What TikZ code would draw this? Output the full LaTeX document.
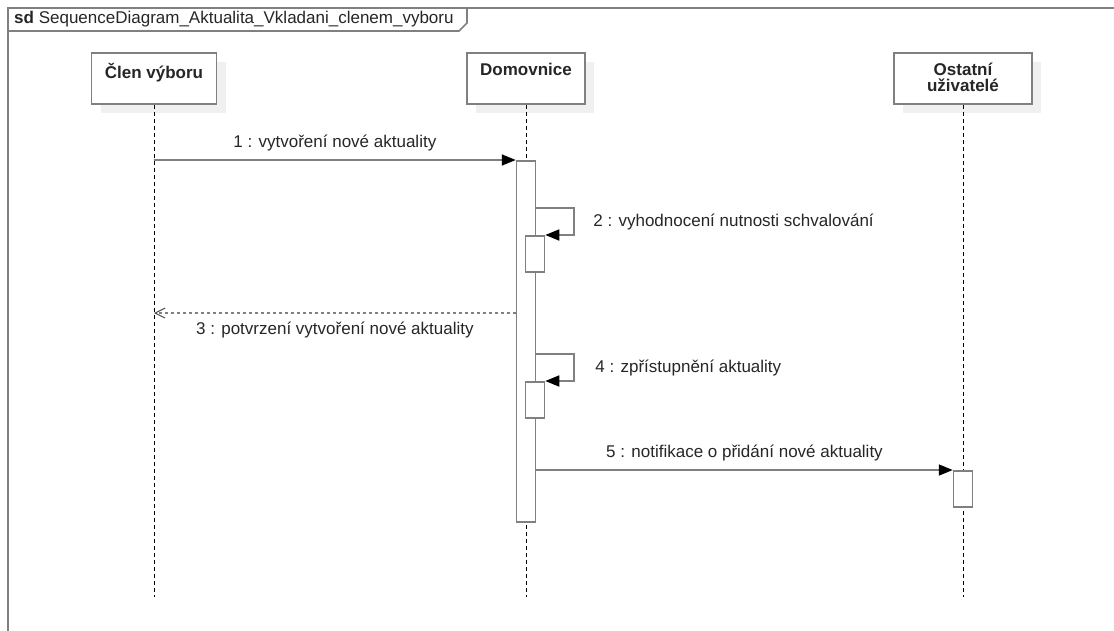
\documentclass[tikz,border=0pt]{standalone}
\usepackage{fontspec}
\setmainfont{Liberation Sans}
\usetikzlibrary{arrows.meta,shadows}
\definecolor{umlgray}{HTML}{808080}
\definecolor{shade}{HTML}{F0F0F0}

\begin{document}
\begin{tikzpicture}[x=1pt,y=-1pt,
    every node/.style={font=\fontsize{17}{16}\selectfont, text=black!85},
    head/.style={draw=umlgray, line width=1.8pt, fill=white, anchor=north,
        minimum height=51pt, inner sep=0pt,
        drop shadow={shadow xshift=9pt, shadow yshift=-9pt, fill=shade, opacity=1}},
    headtxt/.style={anchor=north, font=\fontsize{17}{16}\selectfont\bfseries,
        align=center, inner sep=0pt, yshift=-11pt},
    lifeline/.style={line width=0.9pt, dash pattern=on 4pt off 3pt},
    act/.style={draw=umlgray, line width=1.5pt, fill=white, anchor=north,
        minimum width=19pt, inner sep=0pt},
    msg/.style={draw=umlgray, line width=1.6pt,
        -{Triangle[length=14pt,width=11pt,color=black]}},
    reply/.style={draw=umlgray, line width=1.3pt, dash pattern=on 3pt off 3pt,
        -{Straight Barb[length=10pt,width=10pt,color=black!70,line width=1pt]}}]

    \clip (0,0) rectangle (1114,630);
    \useasboundingbox (0,0) rectangle (1114,630);

    % frame with its name tab
    \draw[umlgray, line width=2pt] (1120,8) -- (8,8) -- (8,640);
    \draw[umlgray, line width=1.6pt] (8,31) -- (459,31) -- (467,23) -- (467,8);
    \node[anchor=west, inner sep=0pt] (title) at (14,19.5)
        {\textbf{sd}\ SequenceDiagram\_Aktualita\_Vkladani\_clenem\_vyboru};

    \coordinate (bottom) at (0,597);

    \node[head, minimum width=125pt] (cv) at (154,52) {};
    \node[headtxt] (cvt) at (cv.north) {Člen výboru};
    \node[head, minimum width=118pt] (dm) at (526,52) {};
    \node[headtxt] (dmt) at (dm.north) {Domovnice};
    \node[head, minimum width=138pt] (ou) at (963,52) {};
    \node[headtxt] (out) at (ou.north) {Ostatní\\uživatelé};

    \draw[lifeline] (cv.south) -- (cv.south |- bottom);
    \draw[lifeline] (dm.south) -- (dm.south |- bottom);
    \draw[lifeline] (ou.south) -- (ou.south |- bottom);

    \node[act, minimum height=361pt] (a0) at (526,160) {};
    \node[act, minimum height=36pt] (a1) at (535,235) {};
    \node[act, minimum height=36pt] (a2) at (535,381) {};
    \node[act, minimum height=36pt] (a3) at (963,470) {};

    \draw[msg] (cv.south |- a0.north) -- (a0.north west)
        node[midway, above=5pt] (m1) {1 : vytvoření nové aktuality};

    \draw[msg] ([yshift=-48pt]a0.north east) -- ++(38,0) |- (a1.north east)
        node[pos=0.25, right=15pt] (m2) {2 : vyhodnocení nutnosti schvalování};

    \coordinate (r3) at ([yshift=-153pt]a0.north west);
    \draw[reply] (r3) -- (cv.south |- r3)
        node[midway, below=5pt] (m3) {3 : potvrzení vytvoření nové aktuality};

    \draw[msg] ([yshift=-194pt]a0.north east) -- ++(38,0) |- (a2.north east)
        node[pos=0.25, right=17pt] (m4) {4 : zpřístupnění aktuality};

    \draw[msg] ([yshift=-310pt]a0.north east) -- (a3.north west)
        node[midway, above=5pt] (m5) {5 : notifikace o přidání nové aktuality};
\end{tikzpicture}
\end{document}
